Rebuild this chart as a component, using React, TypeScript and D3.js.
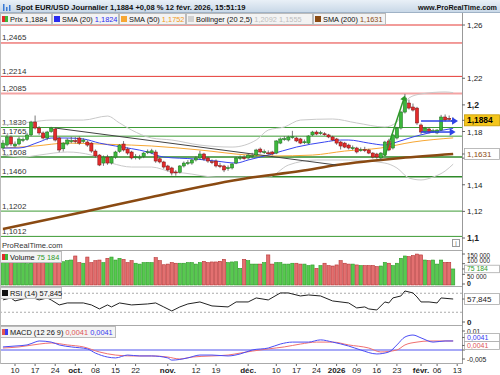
import React, { useEffect, useRef } from "react";
import * as d3 from "d3";

// EUR/USD daily, values
const firstDay = new Date(2025, 8, 5);
const lastSlot = new Date(2026, 1, 13); // empty slot after the last candle (label "13")
const holidays = ["2025-12-25", "2026-01-01"];

const opens = [
  1.1676, 1.1698, 1.1759, 1.1691, 1.1706, 1.1736, 1.1740, 1.1774, 1.1871, 1.1826,
  1.1789, 1.1751, 1.1800, 1.1819, 1.1751, 1.1670, 1.1706, 1.1727, 1.1731, 1.1751,
  1.1725, 1.1721, 1.1713, 1.1653, 1.1623, 1.1563, 1.1608, 1.1563, 1.1608, 1.1650,
  1.1706, 1.1668, 1.1646, 1.1605, 1.1603, 1.1612, 1.1643, 1.1640, 1.1646, 1.1595,
  1.1571, 1.1541, 1.1526, 1.1496, 1.1494, 1.1541, 1.1560, 1.1563, 1.1586, 1.1601,
  1.1631, 1.1601, 1.1573, 1.1578, 1.1543, 1.1541, 1.1524, 1.1526, 1.1563, 1.1598,
  1.1603, 1.1601, 1.1614, 1.1623, 1.1668, 1.1644, 1.1640, 1.1646, 1.1638, 1.1713,
  1.1742, 1.1736, 1.1757, 1.1751, 1.1744, 1.1719, 1.1713, 1.1774, 1.1796, 1.1787,
  1.1783, 1.1774, 1.1759, 1.1744, 1.1721, 1.1713, 1.1698, 1.1674, 1.1676, 1.1659,
  1.1663, 1.1661, 1.1638, 1.1631, 1.1601, 1.1623, 1.1729, 1.1676, 1.1751, 1.1826,
  1.1946, 1.2014, 1.1984, 1.1976, 1.1849, 1.1796, 1.1819, 1.1802, 1.1789, 1.1811,
  1.1909, 1.1899, 1.1875,
];
const highs = [
  1.1735, 1.1775, 1.1770, 1.1725, 1.1760, 1.1755, 1.1790, 1.1880, 1.1920, 1.1840,
  1.1800, 1.1805, 1.1835, 1.1830, 1.1760, 1.1720, 1.1750, 1.1760, 1.1758, 1.1762,
  1.1750, 1.1735, 1.1720, 1.1665, 1.1630, 1.1620, 1.1625, 1.1615, 1.1655, 1.1705,
  1.1728, 1.1680, 1.1655, 1.1630, 1.1625, 1.1645, 1.1665, 1.1670, 1.1662, 1.1605,
  1.1580, 1.1550, 1.1535, 1.1510, 1.1548, 1.1575, 1.1585, 1.1595, 1.1615, 1.1655,
  1.1640, 1.1610, 1.1590, 1.1590, 1.1565, 1.1550, 1.1545, 1.1562, 1.1610, 1.1620,
  1.1622, 1.1635, 1.1640, 1.1670, 1.1680, 1.1665, 1.1658, 1.1655, 1.1735, 1.1755,
  1.1765, 1.1768, 1.1805, 1.1762, 1.1752, 1.1740, 1.1772, 1.1805, 1.1808, 1.1805,
  1.1795, 1.1782, 1.1768, 1.1752, 1.1730, 1.1722, 1.1708, 1.1695, 1.1685, 1.1680,
  1.1685, 1.1670, 1.1645, 1.1640, 1.1645, 1.1730, 1.1745, 1.1782, 1.1835, 1.1955,
  1.2082, 1.2040, 1.2010, 1.1985, 1.1860, 1.1835, 1.1830, 1.1820, 1.1818, 1.1925,
  1.1928, 1.1920, 1.1905,
];
const lows = [
  1.1660, 1.1685, 1.1690, 1.1680, 1.1695, 1.1720, 1.1730, 1.1765, 1.1815, 1.1775,
  1.1740, 1.1735, 1.1790, 1.1725, 1.1645, 1.1650, 1.1695, 1.1712, 1.1710, 1.1700,
  1.1712, 1.1685, 1.1640, 1.1605, 1.1540, 1.1542, 1.1550, 1.1552, 1.1595, 1.1640,
  1.1650, 1.1625, 1.1590, 1.1590, 1.1588, 1.1600, 1.1630, 1.1630, 1.1565, 1.1560,
  1.1520, 1.1500, 1.1470, 1.1468, 1.1485, 1.1530, 1.1548, 1.1550, 1.1575, 1.1590,
  1.1580, 1.1565, 1.1555, 1.1530, 1.1525, 1.1495, 1.1505, 1.1515, 1.1555, 1.1585,
  1.1588, 1.1590, 1.1600, 1.1615, 1.1635, 1.1630, 1.1625, 1.1620, 1.1630, 1.1705,
  1.1730, 1.1725, 1.1745, 1.1720, 1.1705, 1.1705, 1.1705, 1.1765, 1.1772, 1.1775,
  1.1768, 1.1750, 1.1728, 1.1700, 1.1665, 1.1675, 1.1665, 1.1660, 1.1635, 1.1648,
  1.1645, 1.1630, 1.1598, 1.1595, 1.1580, 1.1615, 1.1652, 1.1665, 1.1740, 1.1815,
  1.1935, 1.1965, 1.1950, 1.1850, 1.1780, 1.1785, 1.1785, 1.1790, 1.1780, 1.1805,
  1.1875, 1.1880, 1.1865,
];
const closes = [
  1.1713, 1.1759, 1.1706, 1.1706, 1.1744, 1.1740, 1.1774, 1.1871, 1.1826, 1.1789,
  1.1751, 1.1796, 1.1826, 1.1736, 1.1661, 1.1713, 1.1736, 1.1731, 1.1725, 1.1713,
  1.1736, 1.1698, 1.1653, 1.1616, 1.1548, 1.1608, 1.1563, 1.1608, 1.1646, 1.1698,
  1.1661, 1.1638, 1.1601, 1.1610, 1.1608, 1.1638, 1.1648, 1.1655, 1.1578, 1.1571,
  1.1533, 1.1511, 1.1488, 1.1490, 1.1541, 1.1563, 1.1566, 1.1586, 1.1601, 1.1631,
  1.1593, 1.1578, 1.1569, 1.1541, 1.1539, 1.1511, 1.1528, 1.1556, 1.1601, 1.1603,
  1.1599, 1.1623, 1.1618, 1.1661, 1.1646, 1.1648, 1.1636, 1.1631, 1.1729, 1.1744,
  1.1746, 1.1759, 1.1761, 1.1729, 1.1713, 1.1723, 1.1766, 1.1796, 1.1781, 1.1791,
  1.1779, 1.1759, 1.1736, 1.1713, 1.1691, 1.1683, 1.1676, 1.1678, 1.1646, 1.1663,
  1.1659, 1.1638, 1.1608, 1.1608, 1.1638, 1.1721, 1.1661, 1.1774, 1.1826, 1.1946,
  1.2052, 1.1976, 1.1961, 1.1864, 1.1796, 1.1826, 1.1796, 1.1806, 1.1811, 1.1909,
  1.1886, 1.1895, 1.1884,
];
// volume, thousands
const volumeK = [
  110, 112, 108, 105, 110, 104, 100, 103, 120, 112, 108, 104, 110, 118, 115,
  109, 114, 117, 136, 105, 102, 131, 105, 114, 117,
  105, 125, 131, 117, 125, 120, 105, 114, 102, 98,
  105, 106, 105, 128, 114, 95, 98, 105, 102, 102,
  102, 105, 105, 98, 105, 111, 105, 108, 108, 111,
  120, 105, 108, 109, 78, 120, 114, 98, 98, 98,
  105, 141, 98, 105, 105, 98, 98, 102, 102, 98,
  98, 91, 94, 78, 91, 102, 91, 89, 94, 114,
  102, 98, 98, 94, 91, 91, 91, 91, 86, 89,
  106, 102, 91, 102, 125, 136, 133, 138, 145, 141,
  117, 114, 117, 98, 117, 105, 106, 75.184,
];

// indicator lines, sampled as [candle index, value]
const sma20 = [[0, 1.1676], [4, 1.1676], [9, 1.1721], [12, 1.1751], [16, 1.1751], [20, 1.1744], [24, 1.1713], [28, 1.1691], [36, 1.1646], [40, 1.1608], [48, 1.1593], [53, 1.1578], [58, 1.1563], [61, 1.1586], [66, 1.1623], [73, 1.1683], [80, 1.1721], [84, 1.1736], [86, 1.1736], [91, 1.1713], [95, 1.1698], [98, 1.1721], [102, 1.1759], [106, 1.1789], [112, 1.1824]];
const sma50 = [[0, 1.1676], [8, 1.1691], [16, 1.1713], [24, 1.1706], [32, 1.1698], [37, 1.1691], [49, 1.1661], [61, 1.1623], [67, 1.1616], [77, 1.1623], [85, 1.1653], [94, 1.1676], [102, 1.1721], [112, 1.1752]];
const sma200 = [[0, 1.1067], [20, 1.1195], [37, 1.1308], [61, 1.1451], [74, 1.1503], [83, 1.1548], [99, 1.1601], [112, 1.1631]];
const bollUp = [[0, 1.1849], [7, 1.1871], [12, 1.1886], [20, 1.1886], [26, 1.1916], [29, 1.1864], [32, 1.1811], [37, 1.1751], [42, 1.1736], [49, 1.1698], [57, 1.1683], [63, 1.1736], [66, 1.1811], [70, 1.1834], [74, 1.1886], [82, 1.1894], [88, 1.1864], [95, 1.1834], [98, 1.1871], [101, 1.2052], [104, 1.2082], [110, 1.2097], [112, 1.2092]];
const bollDown = [[0, 1.1623], [5, 1.1608], [9, 1.1623], [16, 1.1646], [22, 1.1623], [27, 1.1563], [32, 1.1533], [37, 1.1533], [42, 1.1496], [45, 1.1488], [53, 1.1458], [60, 1.1458], [66, 1.1458], [71, 1.1548], [78, 1.1586], [86, 1.1586], [95, 1.1563], [98, 1.1526], [101, 1.1451], [104, 1.1436], [107, 1.1458], [110, 1.1503], [112, 1.1555]];
const rsi = [[0, 56.0], [2, 60.1], [3, 53.8], [5, 58.0], [7, 62.2], [9, 55.9], [11, 60.1], [12, 55.9], [14, 45.4], [16, 49.6], [20, 49.6], [22, 45.4], [24, 37.0], [26, 45.4], [27, 41.2], [29, 49.6], [32, 45.4], [36, 47.5], [38, 49.6], [40, 41.2], [42, 32.7], [44, 41.2], [46, 47.5], [49, 51.7], [52, 43.3], [56, 41.2], [58, 51.7], [61, 51.7], [63, 60.1], [66, 55.9], [69, 70.6], [71, 70.6], [74, 64.3], [76, 66.4], [79, 64.3], [82, 53.8], [86, 49.6], [88, 39.1], [90, 41.2], [91, 37.0], [93, 34.8], [95, 51.7], [96, 49.6], [97, 60.1], [99, 64.3], [100, 74.8], [102, 70.6], [103, 62.2], [104, 51.7], [106, 51.7], [108, 49.6], [109, 60.1], [112, 57.845]];
const macd = [[0, 0.0014], [3, 0.0018], [6, 0.0023], [8, 0.0036], [9, 0.0041], [12, 0.0036], [14, 0.0023], [17, 0.0014], [21, 0.0005], [23, -0.0014], [26, -0.0032], [28, -0.0036], [31, -0.0023], [34, -0.0027], [37, -0.0027], [41, -0.0036], [42, -0.0046], [46, -0.0036], [49, -0.0023], [52, -0.0023], [56, -0.0027], [59, -0.0018], [62, 0], [66, 0.0009], [69, 0.0027], [72, 0.0036], [76, 0.0036], [79, 0.0046], [82, 0.0036], [86, 0.0018], [89, 0], [93, -0.0018], [96, -0.0009], [98, 0.0023], [100, 0.0059], [102, 0.0068], [104, 0.0055], [107, 0.0036], [110, 0.0041], [112, 0.0041]];
const macdSignal = [[0, 0.0009], [4, 0.0014], [9, 0.0027], [12, 0.0032], [16, 0.0023], [20, 0.0014], [24, -0.0009], [28, -0.0023], [32, -0.0027], [37, -0.0027], [41, -0.0032], [44, -0.0041], [47, -0.0032], [52, -0.0027], [56, -0.0023], [59, -0.0014], [62, -0.0005], [66, 0.0005], [70, 0.0014], [74, 0.0027], [78, 0.0036], [82, 0.0036], [86, 0.0023], [91, 0.0009], [94, -0.0009], [98, 0], [100, 0.0023], [103, 0.0036], [106, 0.0041], [112, 0.0041]];

// horizontal levels drawn on the chart
const levelValues = [1.26, 1.2465, 1.2214, 1.2085, 1.183, 1.1765, 1.1608, 1.146, 1.1202, 1.1012];
const levelLabels = ["", "1,2465", "1,2214", "1,2085", "1,1830", "1,1765", "1,1608", "1,1460", "1,1202", "1,1012"];
const levelColors = ["#e53935", "#e53935", "#e53935", "#f4a3a3", "#3d9b35", "#3d9b35", "#2f8a2a", "#2f8a2a", "#3d9b35", "#3d9b35"];
const levelWidths = [1, 1, 1, 2, 1, 1, 1.6, 1.6, 1, 1];

// hand drawn trend objects, [candle index, price]
const blackTrend = [[13, 1.1826], [83, 1.1548]];
const greenArrow = [[95, 1.1615], [100, 1.207]];
const blueArrowHigh = [[104, 1.1879], [113.2, 1.1879]];
const blueArrowLow = [[104, 1.1796], [112.6, 1.1796]];

const priceTicks = [1.26, 1.22, 1.2, 1.18, 1.14, 1.12, 1.1]; // 1,16 sits under the SMA200 tag
// [value, label, where the label is pushed to so they don't collide]
const volTicks = [[150, "150 000", 255.5], [100, "100 000", 261], [50, "50 000", 276.3], [0, "0", 284]];
const macdTicks = [[0.01, "0,01"], [-0.005, "-0,005"]];
const xTicks = [
  ["2025-09-10", "10"], ["2025-09-17", "17"], ["2025-09-24", "24"], ["2025-10-01", "oct."],
  ["2025-10-08", "08"], ["2025-10-15", "15"], ["2025-10-22", "22"], ["2025-11-03", "nov."],
  ["2025-11-12", "12"], ["2025-11-19", "19"], ["2025-12-01", "déc."], ["2025-12-10", "10"],
  ["2025-12-17", "17"], ["2025-12-24", "24"], ["2026-01-02", "2026"], ["2026-01-09", "09"],
  ["2026-01-16", "16"], ["2026-01-23", "23"], ["2026-02-02", "févr."], ["2026-02-06", "06"],
  ["2026-02-13", "13"],
];

const W = 500;
const H = 375;
const axisX = 462;
const font = "'Liberation Sans', Arial, sans-serif";

const App = () => {
  const svgRef = useRef<SVGSVGElement>(null);

  useEffect(() => {
    const svg = d3.select(svgRef.current);
    svg.selectAll("*").remove();

    // trading days (weekends + the two holidays are skipped by the feed)
    const fmt = d3.timeFormat("%Y-%m-%d");
    const days = d3.timeDay
      .range(firstDay, d3.timeDay.offset(lastSlot, 1))
      .filter((d) => d.getDay() % 6 !== 0 && !holidays.includes(fmt(d)))
      .map((d) => fmt(d));

    // scales
    const x = d3.scaleLinear().domain([0, days.length - 1]).range([2.94, 457.2]);
    const yP = d3.scaleLinear().domain([1.1, 1.26]).range([238, 25]);
    const yV = d3.scaleLinear().domain([0, 150]).range([285, 253]);
    const yR = d3.scaleLinear().domain([0, 100]).range([326.5, 279]);
    const yM = d3.scaleLinear().domain([-0.005, 0.01]).range([361, 328]);

    const text = (g: any, xx: number, yy: number, s: string, size = 8, fill = "#222", anchor = "start", weight = "normal") =>
      g.append("text")
        .attr("x", xx).attr("y", yy)
        .attr("font-family", font).attr("font-size", size)
        .attr("fill", fill).attr("text-anchor", anchor).attr("font-weight", weight)
        .text(s);

    const defs = svg.append("defs");
    const clip = (id: string, y0: number, y1: number) =>
      defs.append("clipPath").attr("id", id).append("rect")
        .attr("x", 0).attr("y", y0).attr("width", axisX).attr("height", y1 - y0);
    clip("cPrice", 13, 250);
    clip("cVol", 251, 286);
    clip("cRsi", 287, 325);
    clip("cMacd", 326, 363);

    const grad = defs.append("linearGradient").attr("id", "titleGrad").attr("x1", 0).attr("x2", 0).attr("y1", 0).attr("y2", 1);
    grad.append("stop").attr("offset", "0%").attr("stop-color", "#e9f0f7");
    grad.append("stop").attr("offset", "100%").attr("stop-color", "#c6d6e6");

    svg.append("rect").attr("width", W).attr("height", H).attr("fill", "#fff");

    // ---------------- price panel ----------------
    const pg = svg.append("g").attr("clip-path", "url(#cPrice)");

    levelValues.forEach((v, k) => {
      pg.append("line")
        .attr("x1", 0).attr("x2", axisX)
        .attr("y1", yP(v)).attr("y2", yP(v))
        .attr("stroke", levelColors[k]).attr("stroke-width", levelWidths[k]);
      if (levelLabels[k]) text(pg, 2, yP(v) - 2.5, levelLabels[k], 8, "#333");
    });

    const lineP = d3.line<number[]>().x((d) => x(d[0])).y((d) => yP(d[1])).curve(d3.curveMonotoneX);

    pg.append("path").datum(bollUp).attr("d", lineP).attr("fill", "none").attr("stroke", "#c9c9c9").attr("stroke-width", 1);
    pg.append("path").datum(bollDown).attr("d", lineP).attr("fill", "none").attr("stroke", "#c9c9c9").attr("stroke-width", 1);
    pg.append("path").datum(sma200).attr("d", lineP).attr("fill", "none").attr("stroke", "#8a4a12").attr("stroke-width", 2.5);
    pg.append("path").datum(sma50).attr("d", lineP).attr("fill", "none").attr("stroke", "#f7a733").attr("stroke-width", 1);
    pg.append("path").datum(sma20).attr("d", lineP).attr("fill", "none").attr("stroke", "#3845f0").attr("stroke-width", 1);
    pg.append("path").datum(blackTrend).attr("d", d3.line<number[]>().x((d) => x(d[0])).y((d) => yP(d[1])))
      .attr("fill", "none").attr("stroke", "#444").attr("stroke-width", 1);

    const candles = closes.map((c, i) => ({ i, o: opens[i], h: highs[i], l: lows[i], c }));

    pg.selectAll("line.wick").data(candles).join("line")
      .attr("class", "wick")
      .attr("x1", (d) => x(d.i)).attr("x2", (d) => x(d.i))
      .attr("y1", (d) => yP(d.h)).attr("y2", (d) => yP(d.l))
      .attr("stroke", "#555").attr("stroke-width", 0.8);

    pg.selectAll("rect.body").data(candles).join("rect")
      .attr("class", "body")
      .attr("x", (d) => x(d.i) - 1.6).attr("width", 3.2)
      .attr("y", (d) => yP(Math.max(d.o, d.c)))
      .attr("height", (d) => Math.max(1, Math.abs(yP(d.o) - yP(d.c))))
      .attr("fill", (d) => (d.c >= d.o ? "#3cb83c" : "#e32b2b"))
      .attr("stroke", (d) => (d.c >= d.o ? "#1f6e1f" : "#7a1414"))
      .attr("stroke-width", 0.5);

    // arrows
    const arrowHead = (g: any, tx: number, ty: number, ang: number, size: number, color: string) => {
      const a1 = ang + Math.PI * 0.82;
      const a2 = ang - Math.PI * 0.82;
      g.append("path")
        .attr("d", `M${tx},${ty}L${tx + size * Math.cos(a1)},${ty + size * Math.sin(a1)}L${tx + size * Math.cos(a2)},${ty + size * Math.sin(a2)}Z`)
        .attr("fill", color);
    };
    [blueArrowHigh, blueArrowLow].forEach((a) => {
      const x0 = x(a[0][0]), y0 = yP(a[0][1]), x1 = x(a[1][0]), y1 = yP(a[1][1]);
      pg.append("line").attr("x1", x0).attr("y1", y0).attr("x2", x1 - 4).attr("y2", y1)
        .attr("stroke", "#2e43e6").attr("stroke-width", 1.5);
      arrowHead(svg, x1, y1, 0, 7, "#2e43e6");
    });
    {
      const x0 = x(greenArrow[0][0]), y0 = yP(greenArrow[0][1]), x1 = x(greenArrow[1][0]), y1 = yP(greenArrow[1][1]);
      const ang = Math.atan2(y1 - y0, x1 - x0);
      pg.append("line").attr("x1", x0).attr("y1", y0).attr("x2", x1 - 4 * Math.cos(ang)).attr("y2", y1 - 4 * Math.sin(ang))
        .attr("stroke", "#2f9a2a").attr("stroke-width", 1.5);
      arrowHead(pg, x1, y1, ang, 6, "#2f9a2a");
    }

    text(svg, 2, 248, "ProRealTime.com", 7.6, "#333");
    svg.append("rect").attr("x", 452.5).attr("y", 239.5).attr("width", 7).attr("height", 7)
      .attr("fill", "#fff").attr("stroke", "#999");
    text(svg, 456, 245.5, "i", 6.5, "#666", "middle");

    // ---------------- volume ----------------
    const vg = svg.append("g").attr("clip-path", "url(#cVol)");
    vg.selectAll("rect").data(candles).join("rect")
      .attr("x", (d) => x(d.i) - 1.6).attr("width", 3.2)
      .attr("y", (d) => yV(volumeK[d.i]))
      .attr("height", (d) => yV(0) - yV(volumeK[d.i]))
      .attr("fill", (d) => (d.c >= d.o ? "#57c94f" : "#e37070"))
      .attr("stroke", (d) => (d.c >= d.o ? "#2c9a27" : "#b73232"))
      .attr("stroke-width", 0.6);

    // ---------------- RSI ----------------
    const rg = svg.append("g").attr("clip-path", "url(#cRsi)");
    [70, 30].forEach((v) => {
      rg.append("line").attr("x1", 0).attr("x2", axisX).attr("y1", yR(v)).attr("y2", yR(v))
        .attr("stroke", "#aaa").attr("stroke-dasharray", "2,2");
    });
    rg.append("path").datum(rsi)
      .attr("d", d3.line<number[]>().x((d) => x(d[0])).y((d) => yR(d[1])))
      .attr("fill", "none").attr("stroke", "#222").attr("stroke-width", 1);

    // ---------------- MACD ----------------
    const mg = svg.append("g").attr("clip-path", "url(#cMacd)");
    mg.append("line").attr("x1", 0).attr("x2", axisX).attr("y1", yM(0)).attr("y2", yM(0))
      .attr("stroke", "#8a8cf5").attr("stroke-width", 1.5);
    const lineM = d3.line<number[]>().x((d) => x(d[0])).y((d) => yM(d[1])).curve(d3.curveMonotoneX);
    mg.append("path").datum(macdSignal).attr("d", lineM).attr("fill", "none").attr("stroke", "#f07070").attr("stroke-width", 1);
    mg.append("path").datum(macd).attr("d", lineM).attr("fill", "none").attr("stroke", "#4a4cf5").attr("stroke-width", 1);

    // ---------------- frames ----------------
    [250.5, 286.5, 325.5, 363.5].forEach((yy) => {
      svg.append("line").attr("x1", 0).attr("x2", axisX).attr("y1", yy).attr("y2", yy).attr("stroke", "#aaa");
    });
    svg.append("line").attr("x1", axisX + 0.5).attr("x2", axisX + 0.5).attr("y1", 13).attr("y2", 364).attr("stroke", "#999");
    svg.append("line").attr("x1", 0.5).attr("x2", 0.5).attr("y1", 13).attr("y2", 364).attr("stroke", "#bbb");

    // ---------------- right axis ----------------
    const tick = (yy: number) =>
      svg.append("line").attr("x1", axisX).attr("x2", axisX + 3).attr("y1", yy).attr("y2", yy).attr("stroke", "#666");

    priceTicks.forEach((t) => {
      tick(yP(t));
      const bold = t === 1.2 || t === 1.1;
      text(svg, 467, yP(t) + 3, String(t).replace(".", ","), bold ? 8.6 : 8, "#222", "start", bold ? "bold" : "normal");
    });
    tick(yP(1.16));
    // small labels of the lower panels (the reference squeezes them together)
    volTicks.forEach(([v, s, ly]) => {
      tick(Math.min(284, Math.max(254, yV(v as number))));
      text(svg, 467, (ly as number) + 2.3, s as string, s === "0" ? 7 : 6.4, "#222", "start", s === "0" ? "bold" : "normal");
    });
    tick(322);
    text(svg, 467, 325, "0", 8, "#222", "start", "bold");
    macdTicks.forEach(([v, s]) => {
      const yy = Math.min(359, Math.max(331, yM(v as number)));
      tick(yy);
      text(svg, 467, yy + 2.5, s as string, 6.8, "#222");
    });
    tick(yM(0));

    const valueBox = (yy: number, s: string, color: string, fill: string, bold = false, h = 11, size = 8) => {
      svg.append("rect").attr("x", 464.5).attr("y", yy - h / 2).attr("width", 35).attr("height", h)
        .attr("fill", fill).attr("stroke", bold ? "#c79a00" : "#aaa").attr("stroke-width", 0.8);
      svg.append("line").attr("x1", axisX).attr("x2", 464.5).attr("y1", yy).attr("y2", yy).attr("stroke", "#666");
      text(svg, 467, yy + size * 0.36, s, size, color, "start", bold ? "bold" : "normal");
    };
    valueBox(yP(closes[closes.length - 1]), "1,1884", "#000", "#f4c51b", true, 11, 8.4);
    valueBox(yP(sma200[sma200.length - 1][1]), "1,1631", "#8a4a12", "#fff");
    valueBox(yV(volumeK[volumeK.length - 1]), "75 184", "#2c9a27", "#fff", false, 7.5, 6.8);
    valueBox(yR(rsi[rsi.length - 1][1]), "57,845", "#222", "#fff");
    valueBox(yM(macd[macd.length - 1][1]) - 3.5, "0,0041", "#3a3cf0", "#fff", false, 8, 7);
    valueBox(yM(macdSignal[macdSignal.length - 1][1]) + 4.5, "0,0041", "#e05555", "#fff", false, 8, 7);

    // ---------------- x axis ----------------
    xTicks.forEach(([d, s]) => {
      const xx = x(days.indexOf(d));
      svg.append("line").attr("x1", xx).attr("x2", xx).attr("y1", 364).attr("y2", 366).attr("stroke", "#666");
      const bold = isNaN(Number(s)) || s === "2026";
      text(svg, xx, 373, s, 8, "#222", "middle", bold ? "bold" : "normal");
    });

    // ---------------- title + legends ----------------
    svg.append("rect").attr("x", 0).attr("y", 0).attr("width", W).attr("height", 13).attr("fill", "url(#titleGrad)");
    svg.append("line").attr("x1", 0).attr("x2", W).attr("y1", 12.5).attr("y2", 12.5).attr("stroke", "#9fb2c6");
    [[3, 7, "#3a7bd5"], [6, 4, "#3a7bd5"], [9, 6, "#3a7bd5"]].forEach(([xx, hh, c]) => {
      svg.append("rect").attr("x", xx as number).attr("y", 11 - (hh as number)).attr("width", 1.5).attr("height", hh as number).attr("fill", c as string);
    });
    text(svg, 16, 10, "Spot EUR/USD Journalier 1,1884 +0,08 % 12 févr. 2026, 15:51:19", 7.6, "#111", "start", "bold");
    text(svg, 497, 10, "www.ProRealTime.com", 7.2, "#111", "end", "bold");

    const legend = (x0: number, x1: number, y0: number, swatch: string[], parts: [string, string][]) => {
      svg.append("rect").attr("x", x0 + 0.5).attr("y", y0 + 0.5).attr("width", x1 - x0 - 1).attr("height", 11)
        .attr("fill", "#f3f3f3").attr("stroke", "#bbb");
      swatch.forEach((c, k) => {
        svg.append("rect").attr("x", x0 + 2 + k * 3).attr("y", y0 + 3).attr("width", swatch.length > 1 ? 3 : 6).attr("height", 6).attr("fill", c);
      });
      const t = svg.append("text").attr("x", x0 + 10).attr("y", y0 + 9)
        .attr("font-family", font).attr("font-size", 7.4);
      parts.forEach(([s, c]) => t.append("tspan").attr("fill", c).text(s));
    };
    legend(0, 52, 13, ["#e32b2b", "#3cb83c"], [["Prix 1,1884", "#111"]]);
    legend(52, 119, 13, ["#2a2cf0"], [["SMA (20) ", "#111"], ["1,1824", "#2a2cf0"]]);
    legend(119, 186, 13, ["#f7a733"], [["SMA (50) ", "#111"], ["1,1752", "#f29a1a"]]);
    legend(186, 313, 13, ["#d0d0d0"], [["Bollinger (20 2,5) ", "#111"], ["1,2092  1,1555", "#bdbdbd"]]);
    legend(313, 386, 13, ["#8a4a12"], [["SMA (200) ", "#111"], ["1,1631", "#8a4a12"]]);

    legend(0, 62, 251, ["#e32b2b", "#3cb83c"], [["Volume ", "#111"], ["75 184", "#2c9a27"]]);
    legend(0, 62, 287, ["#111"], [["RSI (14) 57,845", "#111"]]);
    legend(0, 116, 326, ["#e05555", "#3a3cf0"], [["MACD (12 26 9) ", "#111"], ["0,0041 ", "#e05555"], ["0,0041", "#3a3cf0"]]);
  }, []);

  return <svg ref={svgRef} width={W} height={H} style={{ position: "absolute", left: 0, top: 0 }} />;
};

export default App;
